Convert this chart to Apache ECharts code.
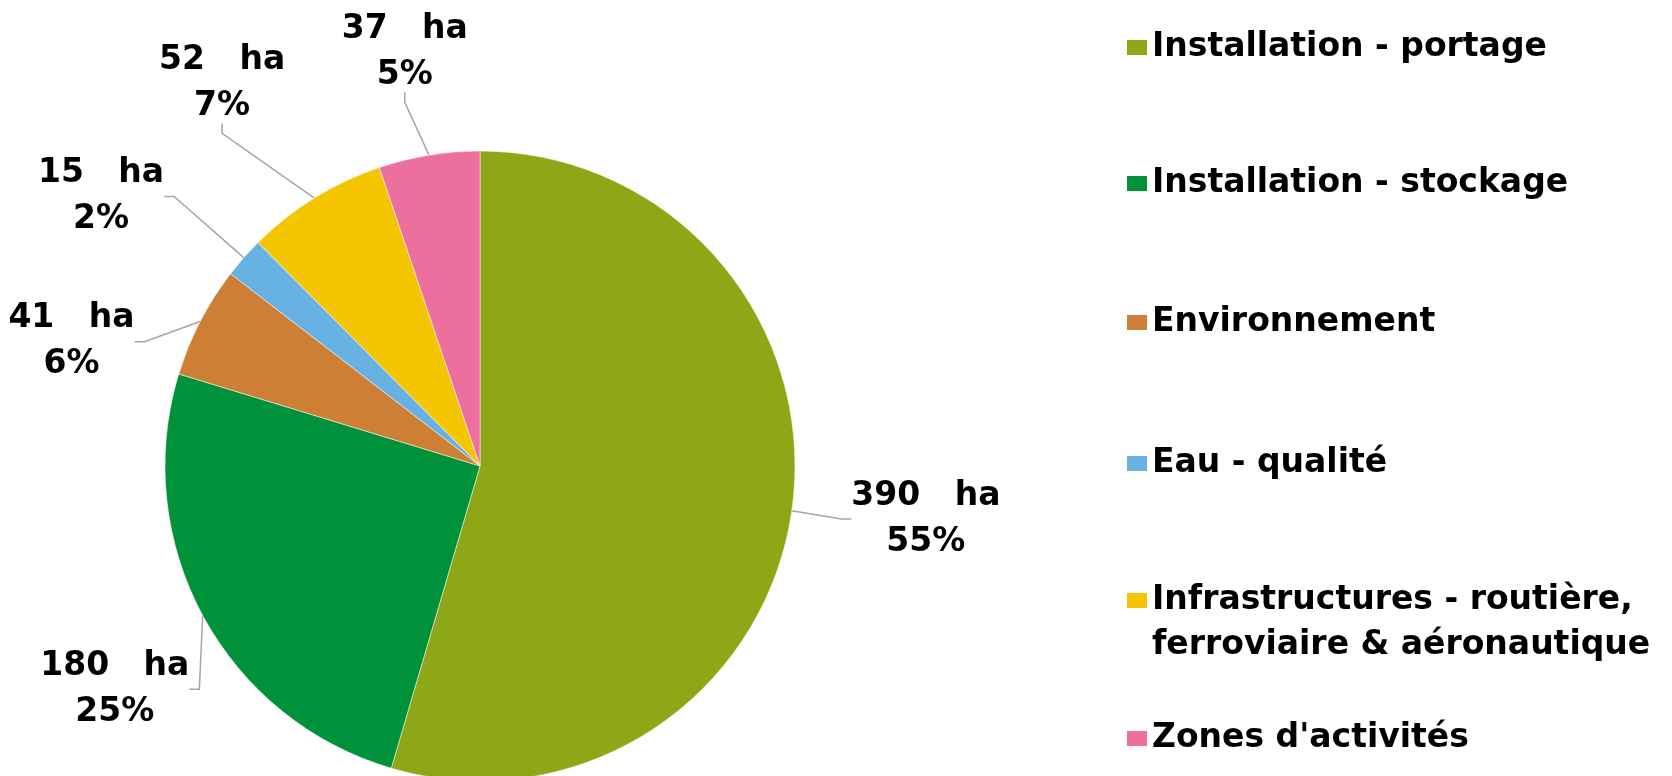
<!DOCTYPE html>
<html>
<head>
<meta charset="utf-8">
<script src="https://cdn.jsdelivr.net/npm/echarts@6/dist/echarts.min.js"></script>
<style>
  html, body { margin: 0; padding: 0; background: #fff; }
  #main { width: 1672px; height: 776px; }
</style>
</head>
<body>
<div id="main"></div>
<script>
// données (surfaces en ha)
var categories = [
    'Installation - portage',
    'Installation - stockage',
    'Environnement',
    'Eau - qualité',
    'Infrastructures - routière,\nferroviaire & aéronautique',
    "Zones d'activités"
];
var surfaces = [390, 180, 41, 15, 52, 37];
var colors = ['#8ea716', '#00923a', '#ce7f36', '#67b2e3', '#f5c500', '#ec6f9d'];

// mise en page (hors données)
var legendRows = [47, 183, 322, 463, 600, 738];   // centre de la 1re ligne
var labelPush = [134, 113, 112, 150, 146, 105];    // éloignement radial des étiquettes
var labelTurn = [-1.4, -3.1, -10.4, -6, -2.3, -1]; // petite rotation (degrés)

var FONT = '"DejaVu Sans", sans-serif';
var CX = 480, CY = 466, R = 315;
var total = surfaces.reduce(function (a, b) { return a + b; }, 0);

var myChart = echarts.init(document.getElementById('main'));

var legends = categories.map(function (name, i) {
    var twoLines = name.indexOf('\n') >= 0;
    return {
        orient: 'vertical',
        left: 1127,
        top: twoLines ? legendRows[i] - 67 : legendRows[i] - 22,
        padding: 0,
        itemWidth: 20,
        itemHeight: 15,
        selectedMode: false,
        itemStyle: { borderWidth: 0 },
        data: [{ name: name, icon: 'rect' }],
        // ligne vide en tête : le carré reste face à la 1re ligne
        formatter: twoLines ? function (n) { return '\n' + n; } : '{name}',
        textStyle: {
            fontFamily: FONT,
            fontWeight: 'bold',
            fontSize: 33,
            lineHeight: 45,
            color: '#000'
        }
    };
});

myChart.setOption({
    animation: false,
    color: colors,
    legend: legends,
    series: [{
        type: 'pie',
        center: [CX, CY],
        radius: R,
        startAngle: 90,
        clockwise: true,
        avoidLabelOverlap: false,
        itemStyle: { borderColor: '#fff', borderWidth: 0.5 },
        label: {
            show: true,
            position: 'outside',
            formatter: function (p) {
                var pct = Math.round(p.value / total * 100);
                return '{v|' + p.value + '   ha}\n{v|' + pct + '%}';
            },
            rich: {
                v: {
                    fontFamily: FONT,
                    fontWeight: 'bold',
                    fontSize: 33,
                    lineHeight: 46,
                    color: '#000',
                    align: 'center'
                }
            }
        },
        labelLine: {
            show: true,
            length: 20,
            length2: 10,
            lineStyle: { color: '#a6a6a6', width: 1.5 }
        },
        labelLayout: function (params) {
            var i = params.dataIndex;
            var p0 = params.labelLinePoints[0];
            var a = Math.atan2(p0[0] - CX, CY - p0[1]) + labelTurn[i] * Math.PI / 180;
            var d = R + labelPush[i];
            return {
                x: CX + d * Math.sin(a),
                y: CY - d * Math.cos(a),
                align: 'center',
                verticalAlign: 'middle'
            };
        },
        data: categories.map(function (name, i) {
            return { name: name, value: surfaces[i] };
        })
    }]
});
</script>
</body>
</html>
